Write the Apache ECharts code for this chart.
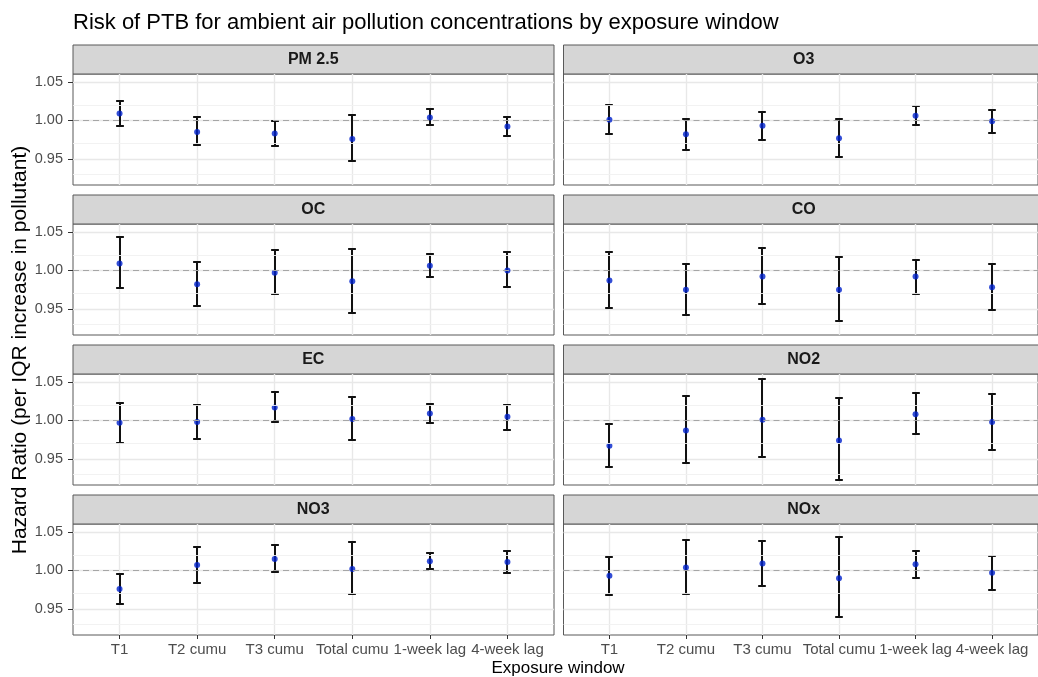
<!DOCTYPE html>
<html>
<head>
<meta charset="utf-8">
<title>Risk of PTB by exposure window</title>
<script src="https://cdn.jsdelivr.net/npm/echarts@6/dist/echarts.min.js"></script>
<style>
  html, body { margin: 0; padding: 0; background: #fff; }
  #chart { width: 1038px; height: 677px; }
</style>
</head>
<body>
<div id="chart"></div>
<script>
// facets and x categories
const pollutants = ['PM 2.5', 'O3', 'OC', 'CO', 'EC', 'NO2', 'NO3', 'NOx']
const windows = ['T1', 'T2 cumu', 'T3 cumu', 'Total cumu', '1-week lag', '4-week lag']

// hazard ratio estimates, one row per pollutant (same order as above)
const estimate = [
  [1.009, 0.985, 0.983, 0.976, 1.004, 0.992],
  [1.001, 0.982, 0.993, 0.977, 1.006, 0.999],
  [1.009, 0.982, 0.997, 0.986, 1.006, 1.000],
  [0.987, 0.975, 0.992, 0.975, 0.992, 0.978],
  [0.997, 0.998, 1.017, 1.002, 1.009, 1.005],
  [0.967, 0.987, 1.001, 0.974, 1.008, 0.998],
  [0.976, 1.007, 1.015, 1.002, 1.012, 1.011],
  [0.993, 1.004, 1.009, 0.990, 1.008, 0.997]
]
const lower = [
  [0.993, 0.968, 0.967, 0.947, 0.994, 0.980],
  [0.982, 0.962, 0.975, 0.953, 0.994, 0.984],
  [0.977, 0.954, 0.970, 0.945, 0.991, 0.978],
  [0.951, 0.942, 0.956, 0.934, 0.970, 0.948],
  [0.971, 0.976, 0.998, 0.974, 0.997, 0.988],
  [0.939, 0.945, 0.952, 0.922, 0.982, 0.962],
  [0.957, 0.984, 0.998, 0.969, 1.002, 0.997],
  [0.968, 0.969, 0.980, 0.939, 0.990, 0.975]
]
const upper = [
  [1.026, 1.004, 0.999, 1.007, 1.015, 1.004],
  [1.020, 1.002, 1.011, 1.002, 1.019, 1.014],
  [1.043, 1.011, 1.027, 1.028, 1.021, 1.024],
  [1.024, 1.009, 1.029, 1.018, 1.014, 1.009],
  [1.023, 1.020, 1.037, 1.030, 1.021, 1.020],
  [0.996, 1.032, 1.054, 1.029, 1.036, 1.035],
  [0.996, 1.030, 1.033, 1.037, 1.023, 1.025],
  [1.018, 1.040, 1.038, 1.044, 1.026, 1.019]
]
const yTicks = [0.95, 1.00, 1.05]
const yMinor = [0.925, 0.975, 1.025]

const FONT = '"Liberation Sans", Arial, Helvetica, sans-serif'
const colLeft = [73, 563.5]
const panelW = 481
const stripTop = 45
const stripH = 29
const panelTop = 74
const panelH = 111
const rowStep = 150
const capWidth = 0.1

const chart = echarts.init(document.getElementById('chart'), null, { renderer: 'canvas' })

const grids = []
const xAxes = []
const yAxes = []
const series = []
const graphics = []

// one segment of an error bar
const seg = (x1, y1, x2, y2) => ({
  type: 'line',
  shape: { x1, y1, x2, y2 },
  style: { stroke: '#111', lineWidth: 2, lineCap: 'butt' }
})

pollutants.forEach((name, i) => {
  const row = Math.floor(i / 2)
  const col = i % 2
  const isBottom = row === 3
  const isLeft = col === 0

  grids.push({
    left: colLeft[col],
    top: panelTop + row * rowStep,
    width: panelW,
    height: panelH,
    show: true,
    backgroundColor: '#fff',
    borderColor: '#595959',
    borderWidth: 1
  })

  xAxes.push({
    type: 'value',
    gridIndex: i,
    min: 0.4,
    max: 6.6,
    minInterval: 1,
    maxInterval: 1,
    axisLine: { show: false },
    axisTick: {
      show: isBottom,
      length: 4,
      customValues: [1, 2, 3, 4, 5, 6],
      lineStyle: { color: '#333' }
    },
    axisLabel: {
      show: isBottom,
      customValues: [1, 2, 3, 4, 5, 6],
      formatter: v => windows[Math.round(v) - 1],
      color: '#4d4d4d',
      fontSize: 15,
      fontFamily: FONT,
      margin: 7
    },
    splitLine: { show: true, lineStyle: { color: '#e8e8e8', width: 1.4 } }
  })

  yAxes.push({
    type: 'value',
    gridIndex: i,
    min: 0.916,
    max: 1.0605,
    minInterval: 0.05,
    maxInterval: 0.05,
    axisLine: { show: false },
    axisTick: {
      show: isLeft,
      length: 5,
      customValues: yTicks,
      lineStyle: { color: '#333' }
    },
    axisLabel: {
      show: isLeft,
      customValues: yTicks,
      formatter: v => v.toFixed(2),
      color: '#4d4d4d',
      fontSize: 14.5,
      fontFamily: FONT,
      margin: 10
    },
    splitLine: { show: true, lineStyle: { color: '#e8e8e8', width: 1.4 } }
  })

  // minor grid + reference line at HR = 1
  series.push({
    type: 'line',
    xAxisIndex: i,
    yAxisIndex: i,
    data: [],
    silent: true,
    z: 1,
    markLine: {
      silent: true,
      symbol: 'none',
      label: { show: false },
      animation: false,
      data: [
        ...yMinor.map(v => ({ yAxis: v, lineStyle: { color: '#f0f0f0', width: 0.9, type: 'solid' } })),
        { yAxis: 1, lineStyle: { color: '#a6a6a6', width: 1, type: [6, 4] } }
      ]
    }
  })

  // error bars (snapped to whole pixels so the 2px strokes stay crisp)
  series.push({
    type: 'custom',
    xAxisIndex: i,
    yAxisIndex: i,
    z: 3,
    silent: true,
    data: windows.map((w, j) => [j + 1, lower[i][j], upper[i][j]]),
    renderItem: (params, api) => {
      const x = api.value(0)
      const top = api.coord([x, api.value(2)])
      const bot = api.coord([x, api.value(1)])
      const half = api.size([capWidth, 0])[0] / 2
      const cx = Math.round(top[0])
      const yt = Math.round(top[1])
      const yb = Math.round(bot[1])
      return {
        type: 'group',
        children: [
          seg(cx, yt, cx, yb),
          seg(cx - half, yt, cx + half, yt),
          seg(cx - half, yb, cx + half, yb)
        ]
      }
    }
  })

  // point estimates
  series.push({
    type: 'scatter',
    xAxisIndex: i,
    yAxisIndex: i,
    z: 4,
    symbolSize: 6,
    itemStyle: { color: '#0022cc' },
    data: windows.map((w, j) => [j + 1, estimate[i][j]])
  })

  // facet strip
  graphics.push({
    type: 'rect',
    shape: { x: colLeft[col], y: stripTop + row * rowStep, width: panelW, height: stripH },
    style: { fill: '#d6d6d6', stroke: '#595959', lineWidth: 1 },
    silent: true
  })
  graphics.push({
    type: 'text',
    x: colLeft[col] + 480.5 / 2,
    y: stripTop + row * rowStep + stripH / 2,
    style: {
      text: name,
      fill: '#1a1a1a',
      font: 'bold 16px ' + FONT,
      textAlign: 'center',
      textVerticalAlign: 'middle'
    },
    silent: true
  })
})

// axis titles
graphics.push({
  type: 'text',
  x: 20,
  y: 350,
  rotation: Math.PI / 2,
  style: {
    text: 'Hazard Ratio (per IQR increase in pollutant)',
    fill: '#000',
    font: '21px ' + FONT,
    textAlign: 'center',
    textVerticalAlign: 'middle'
  }
})
graphics.push({
  type: 'text',
  x: 558,
  y: 668,
  style: {
    text: 'Exposure window',
    fill: '#000',
    font: '17px ' + FONT,
    textAlign: 'center',
    textVerticalAlign: 'middle'
  }
})

const option = {
  backgroundColor: '#fff',
  animation: false,
  title: {
    text: 'Risk of PTB for ambient air pollution concentrations by exposure window',
    left: 73,
    top: 12,
    padding: 0,
    textStyle: { fontSize: 22, fontWeight: 'normal', color: '#000', fontFamily: FONT }
  },
  grid: grids,
  xAxis: xAxes,
  yAxis: yAxes,
  series: series,
  graphic: { elements: graphics }
}

chart.setOption(option)
</script>
</body>
</html>
